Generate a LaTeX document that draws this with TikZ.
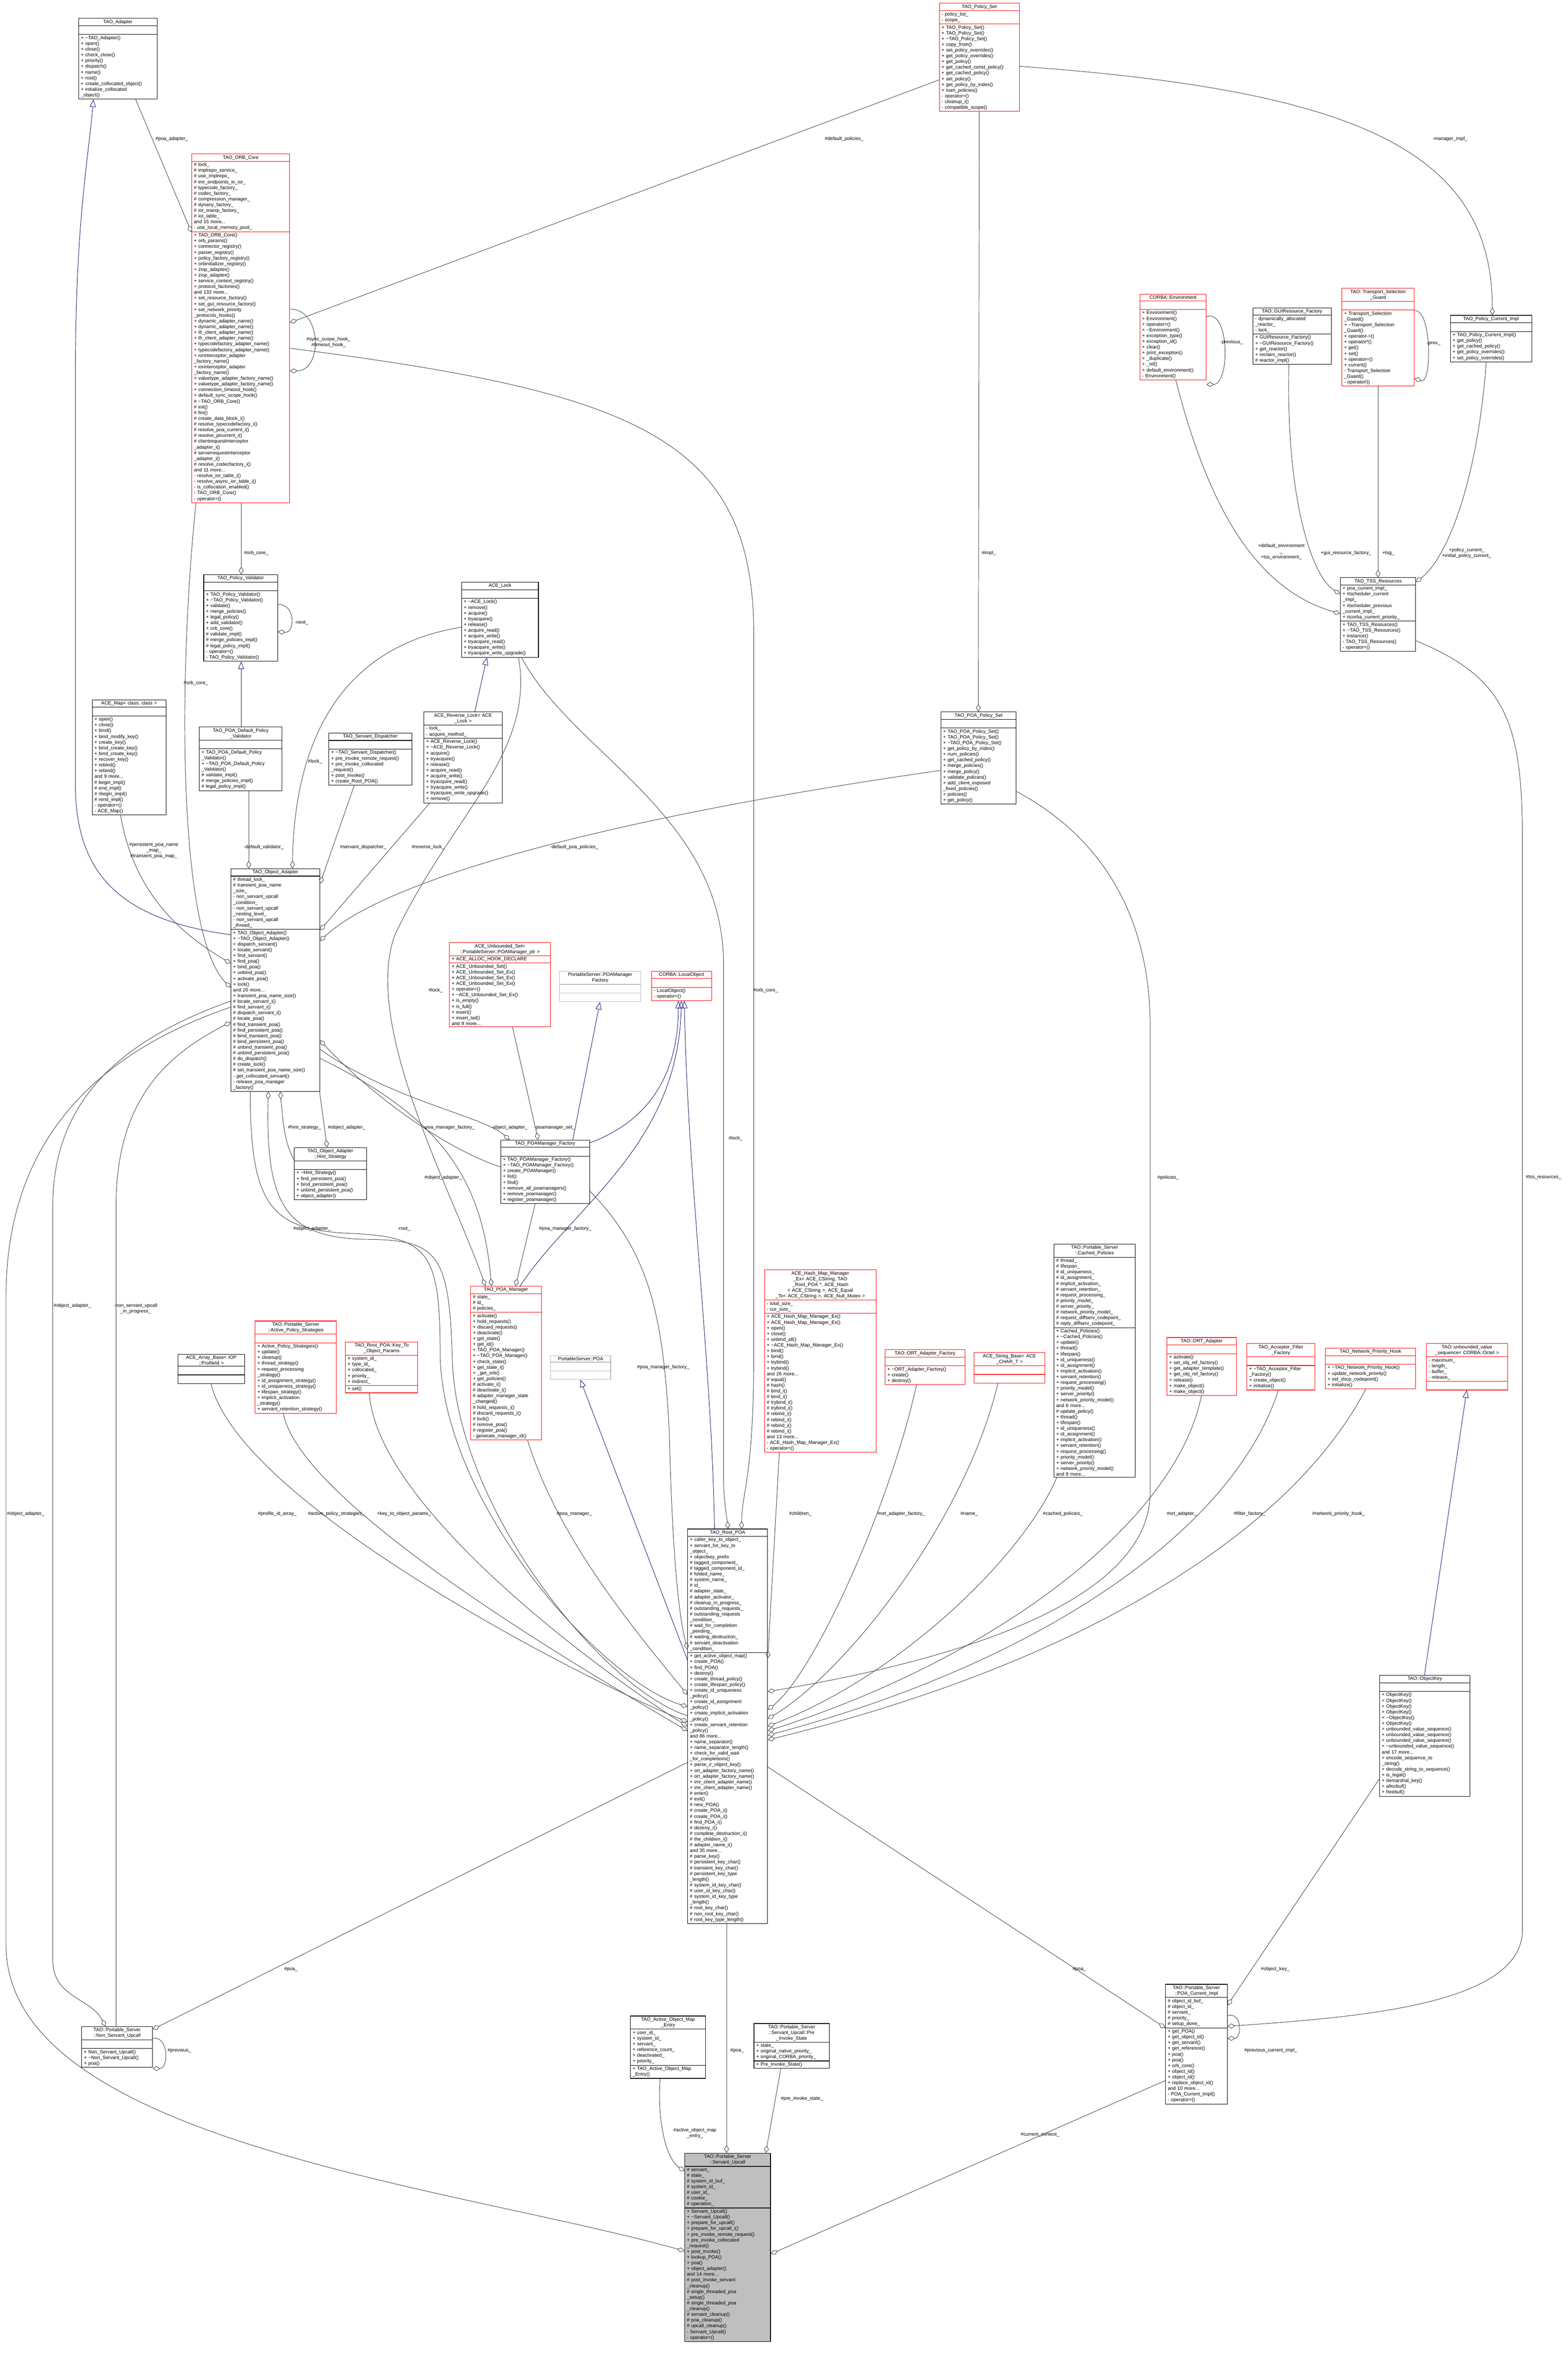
\documentclass[tikz,border=0pt]{standalone}
\usepackage{fontspec}
\setmainfont{Liberation Sans}
\usetikzlibrary{shapes.multipart,arrows.meta}
\definecolor{edgegray}{HTML}{404040}
\definecolor{inhblue}{HTML}{191970}
\definecolor{upcallgray}{HTML}{BFBFBF}
\tikzset{
  cls/.style={draw=black, rectangle split, rectangle split parts=3,
    rectangle split ignore empty parts=false, anchor=north west,
    inner xsep=1.5pt, inner ysep=0.8pt, line width=0.35pt, align=left,
    font=\fontsize{3.2}{3.8}\selectfont},
  redbox/.style={cls, draw=red},
  greybox/.style={cls, draw=gray!55},
  bw/.code={\pgfmathsetmacro\bwv{#1-3}\edef\bwtmp{\noexpand\pgfkeysalso{text width=\bwv pt}}\bwtmp},
  agg/.style={draw=edgegray, line width=0.3pt, -{Diamond[open,length=5pt,width=3.2pt]}},
  inh/.style={draw=inhblue, line width=0.3pt, -{Triangle[open,length=5pt,width=4pt]}},
  lbl/.style={font=\fontsize{3.2}{3.8}\selectfont, align=center, inner sep=0.5pt}
}
\newcommand\ttl[1]{{\centering #1\par}}
\begin{document}
\catcode`\_=12
\begin{tikzpicture}[x=1pt,y=1pt]
\useasboundingbox[fill=white] (0,0) rectangle (1040,-1568);

% upper left
\node[cls,bw=52] (adapter) at (52,-12) {\ttl{TAO_Adapter}
  \nodepart{two}\strut
  \nodepart{three}+ \textasciitilde TAO_Adapter()\\+ open()\\+ close()\\+ check_close()\\+ priority()\\+ dispatch()\\+ name()\\+ root()\\+ create_collocated_object()\\+ initialize_collocated\\_object()};
\node[redbox,bw=65] (orbcore) at (127,-102) {\ttl{TAO_ORB_Core}
  \nodepart{two}\# lock_\\\# implrepo_service_\\\# use_implrepo_\\\# imr_endpoints_in_ior_\\\# typecode_factory_\\\# codec_factory_\\\# compression_manager_\\\# dynany_factory_\\\# ior_manip_factory_\\\# ior_table_\\and 15 more...\\- use_local_memory_pool_
  \nodepart{three}+ TAO_ORB_Core()\\+ orb_params()\\+ connector_registry()\\+ parser_registry()\\+ policy_factory_registry()\\+ orbinitializer_registry()\\+ ziop_adapter()\\+ ziop_adapter()\\+ service_context_registry()\\+ protocol_factories()\\and 132 more...\\+ set_resource_factory()\\+ set_gui_resource_factory()\\+ set_network_priority\\_protocols_hooks()\\+ dynamic_adapter_name()\\+ dynamic_adapter_name()\\+ ifr_client_adapter_name()\\+ ifr_client_adapter_name()\\+ typecodefactory_adapter_name()\\+ typecodefactory_adapter_name()\\+ iorinterceptor_adapter\\_factory_name()\\+ iorinterceptor_adapter\\_factory_name()\\+ valuetype_adapter_factory_name()\\+ valuetype_adapter_factory_name()\\+ connection_timeout_hook()\\+ default_sync_scope_hook()\\\# \textasciitilde TAO_ORB_Core()\\\# init()\\\# fini()\\\# create_data_block_i()\\\# resolve_typecodefactory_i()\\\# resolve_poa_current_i()\\\# resolve_picurrent_i()\\\# clientrequestinterceptor\\_adapter_i()\\\# serverrequestinterceptor\\_adapter_i()\\\# resolve_codecfactory_i()\\and 11 more...\\- resolve_ior_table_i()\\- resolve_async_ior_table_i()\\- is_collocation_enabled()\\- TAO_ORB_Core()\\- operator=()};
\node[cls,bw=49] (polvalid) at (135,-381) {\ttl{TAO_Policy_Validator}
  \nodepart{two}\strut
  \nodepart{three}+ TAO_Policy_Validator()\\+ \textasciitilde TAO_Policy_Validator()\\+ validate()\\+ merge_policies()\\+ legal_policy()\\+ add_validator()\\+ orb_core()\\\# validate_impl()\\\# merge_policies_impl()\\\# legal_policy_impl()\\- operator=()\\- TAO_Policy_Validator()};
\node[cls,bw=49] (acemap) at (61,-464) {\ttl{ACE_Map< class, class >}
  \nodepart{two}\strut
  \nodepart{three}+ open()\\+ close()\\+ bind()\\+ bind_modify_key()\\+ create_key()\\+ bind_create_key()\\+ bind_create_key()\\+ recover_key()\\+ rebind()\\+ rebind()\\and 9 more...\\\# begin_impl()\\\# end_impl()\\\# rbegin_impl()\\\# rend_impl()\\- operator=()\\- ACE_Map()};
\node[cls,bw=55] (defvalid) at (132,-482) {\ttl{TAO_POA_Default_Policy\\_Validator}
  \nodepart{two}\strut
  \nodepart{three}+ TAO_POA_Default_Policy\\_Validator()\\+ \textasciitilde TAO_POA_Default_Policy\\_Validator()\\\# validate_impl()\\\# merge_policies_impl()\\\# legal_policy_impl()};
\node[cls,bw=55] (dispatcher) at (218,-486) {\ttl{TAO_Servant_Dispatcher}
  \nodepart{two}\strut
  \nodepart{three}+ \textasciitilde TAO_Servant_Dispatcher()\\+ pre_invoke_remote_request()\\+ pre_invoke_collocated\\_request()\\+ post_invoke()\\+ create_Root_POA()};
\node[cls,bw=51] (acelock) at (306,-386) {\ttl{ACE_Lock}
  \nodepart{two}\strut
  \nodepart{three}+ \textasciitilde ACE_Lock()\\+ remove()\\+ acquire()\\+ tryacquire()\\+ release()\\+ acquire_read()\\+ acquire_write()\\+ tryacquire_read()\\+ tryacquire_write()\\+ tryacquire_write_upgrade()};
\node[cls,bw=52] (revlock) at (281,-472) {\ttl{ACE_Reverse_Lock< ACE\\_Lock >}
  \nodepart{two}- lock_\\- acquire_method_
  \nodepart{three}+ ACE_Reverse_Lock()\\+ \textasciitilde ACE_Reverse_Lock()\\+ acquire()\\+ tryacquire()\\+ release()\\+ acquire_read()\\+ acquire_write()\\+ tryacquire_read()\\+ tryacquire_write()\\+ tryacquire_write_upgrade()\\+ remove()};
\node[cls,bw=59] (objadapter) at (153,-576) {\ttl{TAO_Object_Adapter}
  \nodepart{two}\# thread_lock_\\\# transient_poa_name\\_size_\\- non_servant_upcall\\_condition_\\- non_servant_upcall\\_nesting_level_\\- non_servant_upcall\\_thread_
  \nodepart{three}+ TAO_Object_Adapter()\\+ \textasciitilde TAO_Object_Adapter()\\+ dispatch_servant()\\+ locate_servant()\\+ find_servant()\\+ find_poa()\\+ bind_poa()\\+ unbind_poa()\\+ activate_poa()\\+ lock()\\and 20 more...\\+ transient_poa_name_size()\\\# locate_servant_i()\\\# find_servant_i()\\\# dispatch_servant_i()\\\# locate_poa()\\\# find_transient_poa()\\\# find_persistent_poa()\\\# bind_transient_poa()\\\# bind_persistent_poa()\\\# unbind_transient_poa()\\\# unbind_persistent_poa()\\\# do_dispatch()\\\# create_lock()\\\# set_transient_poa_name_size()\\- get_collocated_servant()\\- release_poa_manager\\_factory()};
\node[cls,bw=48] (hint) at (195,-761) {\ttl{TAO_Object_Adapter\\::Hint_Strategy}
  \nodepart{two}\strut
  \nodepart{three}+ \textasciitilde Hint_Strategy()\\+ find_persistent_poa()\\+ bind_persistent_poa()\\+ unbind_persistent_poa()\\+ object_adapter()};
\node[redbox,bw=67] (unboundset) at (298,-625) {\ttl{ACE_Unbounded_Set<\\::PortableServer::POAManager_ptr >}
  \nodepart{two}+ ACE_ALLOC_HOOK_DECLARE
  \nodepart{three}+ ACE_Unbounded_Set()\\+ ACE_Unbounded_Set_Ex()\\+ ACE_Unbounded_Set_Ex()\\+ ACE_Unbounded_Set_Ex()\\+ operator=()\\+ \textasciitilde ACE_Unbounded_Set_Ex()\\+ is_empty()\\+ is_full()\\+ insert()\\+ insert_tail()\\and 9 more...};
\node[greybox,bw=54] (psfactory) at (371,-644) {\ttl{PortableServer::POAManager\\Factory}
  \nodepart{two}\strut \nodepart{three}\strut};
\node[redbox,bw=40] (localobj) at (432,-644) {\ttl{CORBA::LocalObject}
  \nodepart{two}\strut
  \nodepart{three}- LocalObject()\\- operator=()};
\node[cls,bw=59] (mgrfactory) at (332,-756) {\ttl{TAO_POAManager_Factory}
  \nodepart{two}\strut
  \nodepart{three}+ TAO_POAManager_Factory()\\+ \textasciitilde TAO_POAManager_Factory()\\+ create_POAManager()\\+ list()\\+ find()\\+ remove_all_poamanagers()\\+ remove_poamanager()\\+ register_poamanager()};
\node[redbox,bw=47] (poamgr) at (312,-853) {\ttl{TAO_POA_Manager}
  \nodepart{two}\# state_\\\# id_\\\# policies_
  \nodepart{three}+ activate()\\+ hold_requests()\\+ discard_requests()\\+ deactivate()\\+ get_state()\\+ get_id()\\+ TAO_POA_Manager()\\+ \textasciitilde TAO_POA_Manager()\\+ check_state()\\+ get_state_i()\\+ _get_orb()\\+ get_policies()\\\# activate_i()\\\# deactivate_i()\\\# adapter_manager_state\\_changed()\\\# hold_requests_i()\\\# discard_requests_i()\\\# lock()\\\# remove_poa()\\\# register_poa()\\- generate_manager_id()};
\node[redbox,bw=54] (strategies) at (169,-876) {\ttl{TAO::Portable_Server\\::Active_Policy_Strategies}
  \nodepart{two}\strut
  \nodepart{three}+ Active_Policy_Strategies()\\+ update()\\+ cleanup()\\+ thread_strategy()\\+ request_processing\\_strategy()\\+ id_assignment_strategy()\\+ id_uniqueness_strategy()\\+ lifespan_strategy()\\+ implicit_activation\\_strategy()\\+ servant_retention_strategy()};
\node[redbox,bw=48] (keyparams) at (229,-890) {\ttl{TAO_Root_POA::Key_To\\_Object_Params}
  \nodepart{two}+ system_id_\\+ type_id_\\+ collocated_\\+ priority_\\+ indirect_
  \nodepart{three}+ set()};
\node[cls,bw=44] (arraybase) at (118,-898) {\ttl{ACE_Array_Base< IOP\\::ProfileId >}
  \nodepart{two}\strut \nodepart{three}\strut};
\node[greybox,bw=40] (psPOA) at (365,-899) {\ttl{PortableServer::POA}
  \nodepart{two}\strut \nodepart{three}\strut};

% upper right
\node[redbox,bw=53] (polset) at (623,-2) {\ttl{TAO_Policy_Set}
  \nodepart{two}- policy_list_\\- scope_
  \nodepart{three}+ TAO_Policy_Set()\\+ TAO_Policy_Set()\\+ \textasciitilde TAO_Policy_Set()\\+ copy_from()\\+ set_policy_overrides()\\+ get_policy_overrides()\\+ get_policy()\\+ get_cached_const_policy()\\+ get_cached_policy()\\+ set_policy()\\+ get_policy_by_index()\\+ num_policies()\\- operator=()\\- cleanup_i()\\- compatible_scope()};
\node[cls,bw=50] (poapolset) at (624,-472) {\ttl{TAO_POA_Policy_Set}
  \nodepart{two}\strut
  \nodepart{three}+ TAO_POA_Policy_Set()\\+ TAO_POA_Policy_Set()\\+ \textasciitilde TAO_POA_Policy_Set()\\+ get_policy_by_index()\\+ num_policies()\\+ get_cached_policy()\\+ merge_policies()\\+ merge_policy()\\+ validate_policies()\\+ add_client_exposed\\_fixed_policies()\\+ policies()\\+ get_policy()};
\node[redbox,bw=44] (environment) at (756,-195) {\ttl{CORBA::Environment}
  \nodepart{two}\strut
  \nodepart{three}+ Environment()\\+ Environment()\\+ operator=()\\+ \textasciitilde Environment()\\+ exception_type()\\+ exception_id()\\+ clear()\\+ print_exception()\\+ _duplicate()\\+ _nil()\\+ default_environment()\\- Environment()};
\node[cls,bw=52] (guifactory) at (831,-204) {\ttl{TAO::GUIResource_Factory}
  \nodepart{two}- dynamically_allocated\\_reactor_\\- lock_
  \nodepart{three}+ GUIResource_Factory()\\+ \textasciitilde GUIResource_Factory()\\+ get_reactor()\\+ reclaim_reactor()\\\# reactor_impl()};
\node[redbox,bw=48] (selguard) at (890,-191) {\ttl{TAO::Transport_Selection\\_Guard}
  \nodepart{two}\strut
  \nodepart{three}+ Transport_Selection\\_Guard()\\+ \textasciitilde Transport_Selection\\_Guard()\\+ operator->()\\+ operator*()\\+ get()\\+ set()\\+ operator=()\\+ current()\\- Transport_Selection\\_Guard()\\- operator!()};
\node[cls,bw=54] (polcurrent) at (962,-209) {\ttl{TAO_Policy_Current_Impl}
  \nodepart{two}\strut
  \nodepart{three}+ TAO_Policy_Current_Impl()\\+ get_policy()\\+ get_cached_policy()\\+ get_policy_overrides()\\+ set_policy_overrides()};
\node[cls,bw=50] (tssres) at (889,-383) {\ttl{TAO_TSS_Resources}
  \nodepart{two}+ poa_current_impl_\\+ rtscheduler_current\\_impl_\\+ rtscheduler_previous\\_current_impl_\\+ rtcorba_current_priority_
  \nodepart{three}+ TAO_TSS_Resources()\\+ \textasciitilde TAO_TSS_Resources()\\+ instance()\\- TAO_TSS_Resources()\\- operator=()};

% middle right row
\node[redbox,bw=74] (hashmap) at (507,-842) {\ttl{ACE_Hash_Map_Manager\\_Ex< ACE_CString, TAO\\_Root_POA *, ACE_Hash\\< ACE_CString >, ACE_Equal\\_To< ACE_CString >, ACE_Null_Mutex >}
  \nodepart{two}- total_size_\\- cur_size_
  \nodepart{three}+ ACE_Hash_Map_Manager_Ex()\\+ ACE_Hash_Map_Manager_Ex()\\+ open()\\+ close()\\+ unbind_all()\\+ \textasciitilde ACE_Hash_Map_Manager_Ex()\\+ bind()\\+ bind()\\+ trybind()\\+ trybind()\\and 26 more...\\\# equal()\\\# hash()\\\# bind_i()\\\# bind_i()\\\# trybind_i()\\\# trybind_i()\\\# rebind_i()\\\# rebind_i()\\\# rebind_i()\\\# rebind_i()\\and 13 more...\\- ACE_Hash_Map_Manager_Ex()\\- operator=()};
\node[redbox,bw=53] (ortfactory) at (587,-895) {\ttl{TAO::ORT_Adapter_Factory}
  \nodepart{two}\strut
  \nodepart{three}+ \textasciitilde ORT_Adapter_Factory()\\+ create()\\+ destroy()};
\node[redbox,bw=47] (stringbase) at (646,-897) {\ttl{ACE_String_Base< ACE\\_CHAR_T >}
  \nodepart{two}\strut \nodepart{three}\strut};
\node[cls,bw=54] (cachedpol) at (699,-825) {\ttl{TAO::Portable_Server\\::Cached_Policies}
  \nodepart{two}\# thread_\\\# lifespan_\\\# id_uniqueness_\\\# id_assignment_\\\# implicit_activation_\\\# servant_retention_\\\# request_processing_\\\# priority_model_\\\# server_priority_\\\# network_priority_model_\\\# request_diffserv_codepoint_\\\# reply_diffserv_codepoint_
  \nodepart{three}+ Cached_Policies()\\+ \textasciitilde Cached_Policies()\\+ update()\\+ thread()\\+ lifespan()\\+ id_uniqueness()\\+ id_assignment()\\+ implicit_activation()\\+ servant_retention()\\+ request_processing()\\+ priority_model()\\+ server_priority()\\+ network_priority_model()\\and 8 more...\\\# update_policy()\\+ thread()\\+ lifespan()\\+ id_uniqueness()\\+ id_assignment()\\+ implicit_activation()\\+ servant_retention()\\+ request_processing()\\+ priority_model()\\+ server_priority()\\+ network_priority_model()\\and 8 more...};
\node[redbox,bw=46] (ortadapter) at (774,-887) {\ttl{TAO::ORT_Adapter}
  \nodepart{two}\strut
  \nodepart{three}+ activate()\\+ set_obj_ref_factory()\\+ get_adapter_template()\\+ get_obj_ref_factory()\\+ release()\\+ make_object()\\+ make_object()};
\node[redbox,bw=45] (filterfac) at (827,-891) {\ttl{TAO_Acceptor_Filter\\_Factory}
  \nodepart{two}\strut
  \nodepart{three}+ \textasciitilde TAO_Acceptor_Filter\\_Factory()\\+ create_object()\\+ initialize()};
\node[redbox,bw=60] (nethook) at (879,-894) {\ttl{TAO_Network_Priority_Hook}
  \nodepart{two}\strut
  \nodepart{three}+ \textasciitilde TAO_Network_Priority_Hook()\\+ update_network_priority()\\+ set_dscp_codepoint()\\+ initialize()};
\node[redbox,bw=54] (octetseq) at (946,-891) {\ttl{TAO::unbounded_value\\_sequence< CORBA::Octet >}
  \nodepart{two}- maximum_\\- length_\\- buffer_\\- release_
  \nodepart{three}\strut};

% lower part
\node[cls,bw=53] (rootpoa) at (456,-1014) {\ttl{TAO_Root_POA}
  \nodepart{two}+ caller_key_to_object_\\+ servant_for_key_to\\_object_\\+ objectkey_prefix\\\# tagged_component_\\\# tagged_component_id_\\\# folded_name_\\\# system_name_\\\# id_\\\# adapter_state_\\\# adapter_activator_\\\# cleanup_in_progress_\\\# outstanding_requests_\\\# outstanding_requests\\_condition_\\\# wait_for_completion\\_pending_\\\# waiting_destruction_\\\# servant_deactivation\\_condition_
  \nodepart{three}+ get_active_object_map()\\+ create_POA()\\+ find_POA()\\+ destroy()\\+ create_thread_policy()\\+ create_lifespan_policy()\\+ create_id_uniqueness\\_policy()\\+ create_id_assignment\\_policy()\\+ create_implicit_activation\\_policy()\\+ create_servant_retention\\_policy()\\and 86 more...\\+ name_separator()\\+ name_separator_length()\\+ check_for_valid_wait\\_for_completions()\\+ parse_ir_object_key()\\+ ort_adapter_factory_name()\\+ ort_adapter_factory_name()\\+ imr_client_adapter_name()\\+ imr_client_adapter_name()\\\# enter()\\\# exit()\\\# new_POA()\\\# create_POA_i()\\\# create_POA_i()\\\# find_POA_i()\\\# destroy_i()\\\# complete_destruction_i()\\\# the_children_i()\\\# adapter_name_i()\\and 35 more...\\\# parse_key()\\\# persistent_key_char()\\\# transient_key_char()\\\# persistent_key_type\\_length()\\\# system_id_key_char()\\\# user_id_key_char()\\\# system_id_key_type\\_length()\\\# root_key_char()\\\# non_root_key_char()\\\# root_key_type_length()};
\node[cls,bw=60] (objectkey) at (915,-1111) {\ttl{TAO::ObjectKey}
  \nodepart{two}\strut
  \nodepart{three}+ ObjectKey()\\+ ObjectKey()\\+ ObjectKey()\\+ ObjectKey()\\+ \textasciitilde ObjectKey()\\+ ObjectKey()\\+ unbounded_value_sequence()\\+ unbounded_value_sequence()\\+ unbounded_value_sequence()\\+ \textasciitilde unbounded_value_sequence()\\and 17 more...\\+ encode_sequence_to\\_string()\\+ decode_string_to_sequence()\\+ is_legal()\\+ demarshal_key()\\+ allocbuf()\\+ freebuf()};
\node[cls,bw=47] (nonupcall) at (54,-1344) {\ttl{TAO::Portable_Server\\::Non_Servant_Upcall}
  \nodepart{two}\strut
  \nodepart{three}+ Non_Servant_Upcall()\\+ \textasciitilde Non_Servant_Upcall()\\+ poa()};
\node[cls,bw=50] (mapentry) at (418,-1337) {\ttl{TAO_Active_Object_Map\\_Entry}
  \nodepart{two}+ user_id_\\+ system_id_\\+ servant_\\+ reference_count_\\+ deactivated_\\+ priority_
  \nodepart{three}+ TAO_Active_Object_Map\\_Entry()};
\node[cls,bw=50] (prestate) at (500,-1342) {\ttl{TAO::Portable_Server\\::Servant_Upcall::Pre\\_Invoke_State}
  \nodepart{two}+ state_\\+ original_native_priority_\\+ original_CORBA_priority_
  \nodepart{three}+ Pre_Invoke_State()};
\node[cls,bw=41] (poacurrent) at (773,-1316) {\ttl{TAO::Portable_Server\\::POA_Current_Impl}
  \nodepart{two}\# object_id_buf_\\\# object_id_\\\# servant_\\\# priority_\\\# setup_done_
  \nodepart{three}+ get_POA()\\+ get_object_id()\\+ get_servant()\\+ get_reference()\\+ poa()\\+ poa()\\+ orb_core()\\+ object_id()\\+ object_id()\\+ replace_object_id()\\and 10 more...\\- POA_Current_Impl()\\- operator=()};
\node[cls,bw=57,fill=upcallgray] (upcall) at (454,-1428) {\ttl{TAO::Portable_Server\\::Servant_Upcall}
  \nodepart{two}\# servant_\\\# state_\\\# system_id_buf_\\\# system_id_\\\# user_id_\\\# cookie_\\\# operation_
  \nodepart{three}+ Servant_Upcall()\\+ \textasciitilde Servant_Upcall()\\+ prepare_for_upcall()\\+ prepare_for_upcall_i()\\+ pre_invoke_remote_request()\\+ pre_invoke_collocated\\_request()\\+ post_invoke()\\+ lookup_POA()\\+ poa()\\+ object_adapter()\\and 14 more...\\\# post_invoke_servant\\_cleanup()\\\# single_threaded_poa\\_setup()\\\# single_threaded_poa\\_cleanup()\\\# servant_cleanup()\\\# poa_cleanup()\\\# upcall_cleanup()\\- Servant_Upcall()\\- operator=()};

% inheritance
\draw[inh] ([yshift=-44]objadapter.north west) .. controls (80,-610) and (50,-580) .. (50,-520) -- (50,-250) .. controls (50,-150) and (58,-110) .. ([xshift=10]adapter.south west);
\draw[inh] ([xshift=28]defvalid.north west) -- ([xshift=25]polvalid.south west);
\draw[inh] ([xshift=34]revlock.north west) -- ([xshift=17]acelock.south west);
\draw[inh] ([xshift=48]mgrfactory.north west) -- ([xshift=27]psfactory.south west);
\draw[inh] ([yshift=-2]mgrfactory.north east) .. controls (440,-740) and (450,-700) .. ([xshift=18]localobj.south west);
\draw[inh] ([xshift=33]poamgr.north west) .. controls (380,-800) and (450,-760) .. ([xshift=20]localobj.south west);
\draw[inh] ([xshift=18]rootpoa.north west) .. controls (472,-900) and (456,-780) .. ([xshift=22]localobj.south west);
\draw[inh] ([yshift=-87]rootpoa.north west) -- ([xshift=20]psPOA.south west);
\draw[inh] ([xshift=30]objectkey.north west) -- ([xshift=27]octetseq.south west);

% aggregation
\draw[agg] ([xshift=38]adapter.south west) -- ([yshift=-52]orbcore.north west);
\draw[agg] ([yshift=-51]polset.north west) -- ([yshift=-112]orbcore.north east);
\draw[agg] ([yshift=-103]orbcore.north east) .. controls (214,-205) and (214,-246) .. ([yshift=-144]orbcore.north east);
\draw[agg] ([xshift=33]orbcore.south west) -- ([xshift=25]polvalid.north west);
\draw[agg] ([xshift=3]orbcore.south west) .. controls (118,-450) and (118,-620) .. ([yshift=-79]objadapter.north west);
\draw[agg] ([yshift=-129]orbcore.north east) .. controls (420,-260) and (500,-290) .. (500,-420) -- (500,-900) .. controls (500,-980) and (492,-990) .. ([xshift=36]rootpoa.north west);
\draw[agg] ([yshift=-20]polvalid.north east) .. controls (196,-400) and (196,-420) .. ([yshift=-38]polvalid.north east);
\draw[agg] (polset.south) -- ([xshift=25]poapolset.north west);
\draw[agg] ([yshift=-42]polset.north east) .. controls (900,-60) and (990,-100) .. ([xshift=28]polcurrent.north west);
\draw[agg] ([yshift=-15]environment.north east) .. controls (816,-205) and (816,-255) .. ([yshift=-60]environment.north east);
\draw[agg] ([yshift=-15]selguard.north east) .. controls (950,-205) and (950,-255) .. ([yshift=-60]selguard.north east);
\draw[agg] ([xshift=24]environment.south west) .. controls (800,-330) and (830,-390) .. ([yshift=-24]tssres.north west);
\draw[agg] ([xshift=24]guifactory.south west) .. controls (853,-330) and (870,-382) .. ([yshift=-11]tssres.north west);
\draw[agg] (selguard.south) -- (tssres.north);
\draw[agg] ([xshift=24]polcurrent.south west) .. controls (980,-320) and (960,-370) .. ([yshift=-3]tssres.north east);
\draw[agg] ([yshift=-42]tssres.north east) .. controls (1000,-450) and (1010,-480) .. (1010,-560) -- (1010,-1280) .. controls (1010,-1330) and (900,-1338) .. ([yshift=-28]poacurrent.north east);
\draw[agg] ([yshift=-21]poacurrent.north east) .. controls (824,-1334) and (824,-1352) .. ([yshift=-36]poacurrent.north east);
\draw[agg] ([xshift=33]defvalid.south west) -- ([xshift=12]objadapter.north west);
\draw[agg] ([xshift=19]acemap.south west) .. controls (90,-600) and (130,-625) .. ([yshift=-63]objadapter.north west);
\draw[agg] ([xshift=17]dispatcher.south west) -- ([yshift=-10]objadapter.north east);
\draw[agg] ([yshift=-30]acelock.north west) .. controls (220,-430) and (195,-500) .. ([xshift=41]objadapter.north west);
\draw[agg] ([xshift=4]revlock.south west) -- ([yshift=-41]objadapter.north east);
\draw[agg] ([yshift=-39]poapolset.north west) .. controls (420,-540) and (260,-580) .. ([yshift=-48]objadapter.north east);
\draw[agg] ([xshift=40]acelock.south west) .. controls (380,-500) and (480,-540) .. (480,-640) -- (480,-980) .. controls (480,-995) and (482,-1005) .. ([xshift=27]rootpoa.north west);
\draw[agg] ([xshift=38]acelock.south west) .. controls (355,-500) and (300,-540) .. (262,-620) .. controls (240,-680) and (300,-790) .. ([xshift=10]poamgr.north west);
\draw[agg] ([xshift=59]objadapter.south west) -- ([xshift=22]hint.north west);
\draw[agg] ([yshift=-8]hint.north west) .. controls (190,-760) and (188,-750) .. ([xshift=33]objadapter.south west);
\draw[agg] ([yshift=-120]objadapter.north east) .. controls (260,-730) and (320,-740) .. ([xshift=6]mgrfactory.north west);
\draw[agg] ([yshift=-18]mgrfactory.north west) .. controls (290,-760) and (240,-720) .. ([yshift=-114]objadapter.north east);
\draw[agg] ([xshift=42]unboundset.south west) -- ([xshift=25]mgrfactory.north west);
\draw[agg] ([yshift=-126]objadapter.north east) .. controls (290,-740) and (320,-780) .. ([xshift=14]poamgr.north west);
\draw[agg] ([xshift=23]mgrfactory.south west) -- ([xshift=30]poamgr.north west);
\draw[agg] ([xshift=13]objadapter.south west) .. controls (166,-800) and (180,-815) .. (230,-818) .. controls (285,-820) and (292,-830) .. (292,-900) .. controls (295,-1000) and (400,-1115) .. ([yshift=-118]rootpoa.north west);
\draw[agg] ([yshift=-124]rootpoa.north west) .. controls (400,-1120) and (302,-1000) .. (300,-900) .. controls (298,-830) and (290,-822) .. (240,-822) .. controls (190,-820) and (176,-800) .. ([xshift=25]objadapter.south west);
\draw[agg] ([yshift=-92]objadapter.north west) .. controls (60,-700) and (4,-760) .. (4,-860) -- (4,-1290) .. controls (4,-1420) and (300,-1450) .. ([yshift=-65]upcall.north west);
\draw[agg] ([yshift=-88]objadapter.north west) .. controls (80,-690) and (35,-730) .. (35,-800) -- (35,-1300) .. controls (35,-1325) and (60,-1325) .. ([xshift=16]nonupcall.north west);
\draw[agg] ([xshift=23]nonupcall.north west) -- (77,-800) .. controls (77,-730) and (110,-700) .. ([yshift=-102]objadapter.north west);
\draw[agg] ([yshift=-155]rootpoa.north west) -- ([yshift=-2]nonupcall.north east);
\draw[agg] ([yshift=-8]nonupcall.north east) .. controls (112,-1350) and (112,-1372) .. ([yshift=-28]nonupcall.north east);
\draw[agg] ([xshift=26]rootpoa.south west) -- ([xshift=28]upcall.north west);
\draw[agg] ([yshift=-158]rootpoa.north east) -- ([yshift=-29]poacurrent.north west);
\draw[agg] ([yshift=-69]objectkey.north west) -- ([yshift=-14]poacurrent.north east);
\draw[agg] ([yshift=-64]poacurrent.north west) -- ([yshift=-67]upcall.north east);
\draw[agg] ([xshift=20]mapentry.south west) .. controls (436,-1400) and (440,-1430) .. ([yshift=-12]upcall.north west);
\draw[agg] ([xshift=18]prestate.south west) -- ([xshift=54]upcall.north west);
\draw[agg] ([xshift=10]hashmap.south west) -- ([yshift=-86]rootpoa.north east);
\draw[agg] ([xshift=21]ortfactory.south west) .. controls (590,-1000) and (540,-1110) .. ([yshift=-120]rootpoa.north east);
\draw[agg] ([xshift=16]stringbase.south west) .. controls (640,-1010) and (560,-1110) .. ([yshift=-126]rootpoa.north east);
\draw[agg] ([xshift=2]cachedpol.south west) .. controls (680,-1030) and (600,-1110) .. ([yshift=-131]rootpoa.north east);
\draw[agg] ([xshift=23]ortadapter.south west) .. controls (780,-1010) and (660,-1100) .. ([yshift=-134]rootpoa.north east);
\draw[agg] ([xshift=21]filterfac.south west) .. controls (820,-1010) and (700,-1100) .. ([yshift=-137]rootpoa.north east);
\draw[agg] ([xshift=27]nethook.south west) .. controls (860,-1010) and (730,-1100) .. ([yshift=-140]rootpoa.north east);
\draw[agg] ([yshift=-53]poapolset.north east) .. controls (740,-560) and (763,-620) .. (763,-680) -- (763,-990) .. controls (763,-1040) and (700,-1090) .. ([yshift=-108]rootpoa.north east);
\draw[agg] ([xshift=22]arraybase.south west) .. controls (160,-1000) and (400,-1120) .. ([yshift=-128]rootpoa.north west);
\draw[agg] ([xshift=19]strategies.south west) .. controls (200,-1000) and (400,-1115) .. ([yshift=-134]rootpoa.north west);
\draw[agg] ([xshift=16]keyparams.south west) .. controls (250,-1000) and (400,-1110) .. ([yshift=-131]rootpoa.north west);
\draw[agg] ([xshift=38]poamgr.south west) .. controls (370,-1020) and (420,-1080) .. ([yshift=-110]rootpoa.north west);
\draw[agg] ([yshift=-34]mgrfactory.north east) .. controls (430,-830) and (440,-870) .. (444,-950) .. controls (446,-1030) and (450,-1070) .. ([yshift=-80]rootpoa.north west);

% connector labels
\node[lbl] (lpoaadapter) at (114,-92) {\#poa_adapter_};
\node[lbl] (ldefpolicies) at (560,-92) {\#default_policies_};
\node[lbl] (lhooks) at (218,-227) {\#sync_scope_hook_\\\#timeout_hook_};
\node[lbl] (lorbcoreA) at (170,-367) {\#orb_core_};
\node[lbl] (lorbcoreB) at (130,-453) {\#orb_core_};
\node[lbl] (lorbcoreC) at (508,-657) {\#orb_core_};
\node[lbl] (lnext) at (200,-413) {-next_};
\node[lbl] (limpl) at (656,-367) {\#impl_};
\node[lbl] (lmanager) at (962,-92) {-manager_impl_};
\node[lbl] (lprevious) at (817,-227) {-previous_};
\node[lbl] (lprev) at (951,-228) {-prev_};
\node[lbl] (ldefenv) at (850,-366) {+default_environment\\_\\+tss_environment_};
\node[lbl] (lgui) at (893,-367) {+gui_resource_factory_};
\node[lbl] (ltsg) at (921,-367) {+tsg_};
\node[lbl] (lpolcur) at (973,-367) {+policy_current_\\+initial_policy_current_};
\node[lbl] (ltss) at (1024,-781) {\#tss_resources_};
\node[lbl] (lpolicies) at (775,-781) {\#policies_};
\node[lbl] (ldefvalid) at (175,-562) {-default_validator_};
\node[lbl] (lmaps) at (102,-564) {\#persistent_poa_name\\_map_\\\#transient_poa_map_};
\node[lbl] (ldispatch) at (241,-562) {\#servant_dispatcher_};
\node[lbl] (lrevlock) at (284,-562) {\#reverse_lock_};
\node[lbl] (ldefpoapol) at (381,-562) {-default_poa_policies_};
\node[lbl] (llockA) at (209,-505) {\#lock_};
\node[lbl] (llockB) at (289,-657) {\#lock_};
\node[lbl] (llockC) at (488,-755) {\#lock_};
\node[lbl] (lhint) at (202,-748) {\#hint_strategy_};
\node[lbl] (loaA) at (230,-748) {\#object_adapter_};
\node[lbl] (lmgrfac) at (298,-748) {-poa_manager_factory_};
\node[lbl] (loaB) at (338,-748) {-object_adapter_};
\node[lbl] (lmgrset) at (368,-748) {-poamanager_set_};
\node[lbl] (loaC) at (294,-781) {\#object_adapter_};
\node[lbl] (lpmfA) at (375,-815) {\#poa_manager_factory_};
\node[lbl] (lpmfB) at (440,-907) {\#poa_manager_factory_};
\node[lbl] (loaD) at (207,-815) {\#object_adapter_};
\node[lbl] (lroot) at (268,-815) {-root_};
\node[lbl] (loaE) at (48,-866) {\#object_adapter_};
\node[lbl] (lnonupcall) at (90,-868) {-non_servant_upcall\\_in_progress_};
\node[lbl] (loaF) at (17,-1004) {\#object_adapter_};
\node[lbl] (lprofile) at (184,-1004) {\#profile_id_array_};
\node[lbl] (lstrat) at (223,-1004) {\#active_policy_strategies_};
\node[lbl] (lkeyparams) at (268,-1004) {+key_to_object_params_};
\node[lbl] (lpoamgr) at (381,-1004) {\#poa_manager_};
\node[lbl] (lchildren) at (531,-1004) {\#children_};
\node[lbl] (lortfac) at (598,-1004) {\#ort_adapter_factory_};
\node[lbl] (lname) at (643,-1004) {\#name_};
\node[lbl] (lcached) at (705,-1004) {\#cached_policies_};
\node[lbl] (lort) at (784,-1004) {\#ort_adapter_};
\node[lbl] (lfilter) at (829,-1004) {\#filter_factory_};
\node[lbl] (lnethook) at (888,-1004) {\#network_priority_hook_};
\node[lbl] (lpoaA) at (193,-1306) {\#poa_};
\node[lbl] (lpoaB) at (716,-1306) {\#poa_};
\node[lbl] (lpoaC) at (489,-1360) {\#poa_};
\node[lbl] (lobjkey) at (846,-1306) {\#object_key_};
\node[lbl] (lprevnon) at (119,-1360) {\#previous_};
\node[lbl] (lprevcur) at (843,-1360) {\#previous_current_impl_};
\node[lbl] (lcontext) at (690,-1416) {\#current_context_};
\node[lbl] (lmapentry) at (461,-1415) {\#active_object_map\\_entry_};
\node[lbl] (lprestate) at (532,-1392) {\#pre_invoke_state_};
\end{tikzpicture}
\end{document}
